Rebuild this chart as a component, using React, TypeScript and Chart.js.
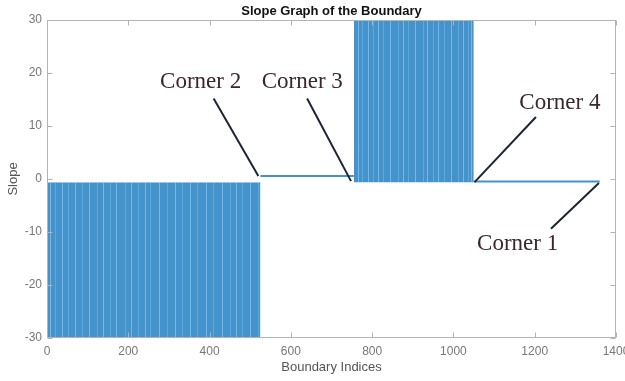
import React, { useEffect, useRef } from "react";
import { Chart, registerables } from "chart.js";

Chart.register(...registerables);

// ---- data ----
const xTickValues = [0, 200, 400, 600, 800, 1000, 1200, 1400];
const yTickValues = [-30, -20, -10, 0, 10, 20, 30];

// dense band 1 (negative slopes) and band 3 (positive slopes)
const band1X = [1, 525];
const band1Top = [-0.75, -0.75];
const band1Bottom = -30;
const band3X = [755, 1050];
const band3Top = [30, 30];
const band3Bottom = -0.6;
// flat segments
const flat2X = [525, 755];
const flat2Y = [0.55, 0.55];
const flat4X = [1050, 1360];
const flat4Y = [-0.45, -0.45];

// lighter stripes inside the dense bands (indices)
const band1Stripes = [8, 20, 37, 52, 70, 86, 104, 123, 139, 155, 171, 192, 207, 224, 240, 254, 275, 296, 314, 333, 351, 370, 390, 409, 430, 451, 466, 481, 500, 518];
const band3Stripes = [764, 776, 789, 801, 814, 826, 845, 863, 875, 887, 905, 924, 936, 949, 962, 976, 994, 1011, 1023, 1035, 1044];

// annotations
const cornerLabels = ["Corner 2", "Corner 3", "Corner 4", "Corner 1"];
const labelX = [378, 628, 1262, 1158];
const labelY = [18.3, 18.3, 14.4, -12.3];
const arrowFromX = [410, 640, 1203, 1240];
const arrowFromY = [15.2, 15.2, 11.7, -9.4];
const arrowToX = [520, 748, 1052, 1358];
const arrowToY = [0.55, -0.4, -0.6, -0.75];

const BLUE = "#4393cc";

const decorPlugin = {
  id: "decor",
  afterDatasetsDraw(chart: any) {
    const { ctx, chartArea, scales } = chart;
    const xs = scales.x;
    const ys = scales.y;
    ctx.save();
    ctx.beginPath();
    ctx.rect(chartArea.left, chartArea.top, chartArea.right - chartArea.left, chartArea.bottom - chartArea.top);
    ctx.clip();
    ctx.lineWidth = 1;
    const drawStripes = (arr: number[], lo: number, hi: number) => {
      arr.forEach((v, i) => {
        ctx.strokeStyle = i % 2 === 0 ? "rgba(255,255,255,0.32)" : "rgba(255,255,255,0.18)";
        const px = Math.round(xs.getPixelForValue(v)) + 0.5;
        ctx.beginPath();
        ctx.moveTo(px, ys.getPixelForValue(hi));
        ctx.lineTo(px, ys.getPixelForValue(lo));
        ctx.stroke();
      });
    };
    drawStripes(band1Stripes, band1Bottom, band1Top[0]);
    drawStripes(band3Stripes, band3Bottom, band3Top[0]);
    ctx.restore();

    // box and inward ticks
    ctx.save();
    ctx.strokeStyle = "#b4b4b4";
    ctx.lineWidth = 1;
    const L = chartArea.left + 0.5;
    const R = chartArea.right - 0.5;
    const T = chartArea.top + 0.5;
    const B = chartArea.bottom - 0.5;
    ctx.strokeRect(L, T, R - L, B - T);
    ctx.beginPath();
    xTickValues.forEach((v) => {
      const px = Math.round(xs.getPixelForValue(v)) + 0.5;
      ctx.moveTo(px, B);
      ctx.lineTo(px, B - 5);
      ctx.moveTo(px, T);
      ctx.lineTo(px, T + 5);
    });
    yTickValues.forEach((v) => {
      const py = Math.round(ys.getPixelForValue(v)) + 0.5;
      ctx.moveTo(L, py);
      ctx.lineTo(L + 5, py);
      ctx.moveTo(R, py);
      ctx.lineTo(R - 5, py);
    });
    ctx.stroke();
    ctx.restore();

    // annotations
    ctx.save();
    ctx.strokeStyle = "#1d2433";
    ctx.lineWidth = 2;
    cornerLabels.forEach((_, i) => {
      ctx.beginPath();
      ctx.moveTo(xs.getPixelForValue(arrowFromX[i]), ys.getPixelForValue(arrowFromY[i]));
      ctx.lineTo(xs.getPixelForValue(arrowToX[i]), ys.getPixelForValue(arrowToY[i]));
      ctx.stroke();
    });
    ctx.fillStyle = "#3a262c";
    ctx.font = '23px "Liberation Serif", "Times New Roman", serif';
    ctx.textAlign = "center";
    ctx.textBaseline = "middle";
    cornerLabels.forEach((t, i) => {
      ctx.fillText(t, xs.getPixelForValue(labelX[i]), ys.getPixelForValue(labelY[i]));
    });
    ctx.restore();

    // titles
    ctx.save();
    const cx = (chartArea.left + chartArea.right) / 2;
    ctx.fillStyle = "#111";
    ctx.font = 'bold 13px "Liberation Sans", Arial, sans-serif';
    ctx.textAlign = "center";
    ctx.textBaseline = "middle";
    ctx.fillText("Slope Graph of the Boundary", cx, chartArea.top - 9);
    ctx.fillStyle = "#555";
    ctx.font = '13px "Liberation Sans", Arial, sans-serif';
    ctx.fillText("Boundary Indices", cx, chartArea.bottom + 29);
    ctx.translate(13, (chartArea.top + chartArea.bottom) / 2);
    ctx.rotate(-Math.PI / 2);
    ctx.fillText("Slope", 0, 0);
    ctx.restore();
  },
};

export default function App() {
  const ref = useRef<HTMLCanvasElement>(null);
  useEffect(() => {
    if (!ref.current) return;
    const toPts = (xs: number[], ys: number[]) => xs.map((x, i) => ({ x, y: ys[i] }));
    const chart = new Chart(ref.current, {
      type: "line",
      data: {
        datasets: [
          {
            data: toPts(band1X, band1Top),
            borderColor: BLUE,
            backgroundColor: BLUE,
            borderWidth: 1,
            pointRadius: 0,
            fill: { value: band1Bottom },
          },
          {
            data: toPts(band3X, band3Top),
            borderColor: BLUE,
            backgroundColor: BLUE,
            borderWidth: 1,
            pointRadius: 0,
            fill: { value: band3Bottom },
          },
          {
            data: toPts(flat2X, flat2Y),
            borderColor: BLUE,
            borderWidth: 2,
            pointRadius: 0,
            fill: false,
          },
          {
            data: toPts(flat4X, flat4Y),
            borderColor: BLUE,
            borderWidth: 2,
            pointRadius: 0,
            fill: false,
          },
        ],
      },
      plugins: [decorPlugin],
      options: {
        animation: false,
        responsive: false,
        maintainAspectRatio: false,
        layout: { padding: { top: 20, right: 9, left: 0, bottom: 0 } },
        plugins: { legend: { display: false }, tooltip: { enabled: false }, title: { display: false } },
        scales: {
          x: {
            type: "linear",
            min: 0,
            max: 1400,
            afterBuildTicks: (s: any) => {
              s.ticks = xTickValues.map((v) => ({ value: v }));
            },
            afterFit: (s: any) => {
              s.height = 43;
              s.paddingLeft = 0;
              s.paddingRight = 0;
            },
            grid: { display: false, drawTicks: false },
            border: { display: false },
            ticks: {
              padding: 6,
              color: "#777",
              font: { family: '"Liberation Sans", Arial, sans-serif', size: 12 },
              maxRotation: 0,
              autoSkip: false,
              callback: (v: any) => String(v),
            },
          },
          y: {
            type: "linear",
            min: -30,
            max: 30,
            afterBuildTicks: (s: any) => {
              s.ticks = yTickValues.map((v) => ({ value: v }));
            },
            afterFit: (s: any) => {
              s.width = 47;
              s.paddingTop = 0;
              s.paddingBottom = 0;
            },
            grid: { display: false, drawTicks: false },
            border: { display: false },
            ticks: {
              padding: 5,
              color: "#777",
              font: { family: '"Liberation Sans", Arial, sans-serif', size: 12 },
              autoSkip: false,
              callback: (v: any) => String(v),
            },
          },
        },
      },
    } as any);
    return () => chart.destroy();
  }, []);
  return (
    <div style={{ position: "fixed", left: 0, top: 0, width: 625, height: 381, background: "#fff" }}>
      <canvas ref={ref} width={625} height={381} style={{ width: 625, height: 381, display: "block" }} />
    </div>
  );
}
